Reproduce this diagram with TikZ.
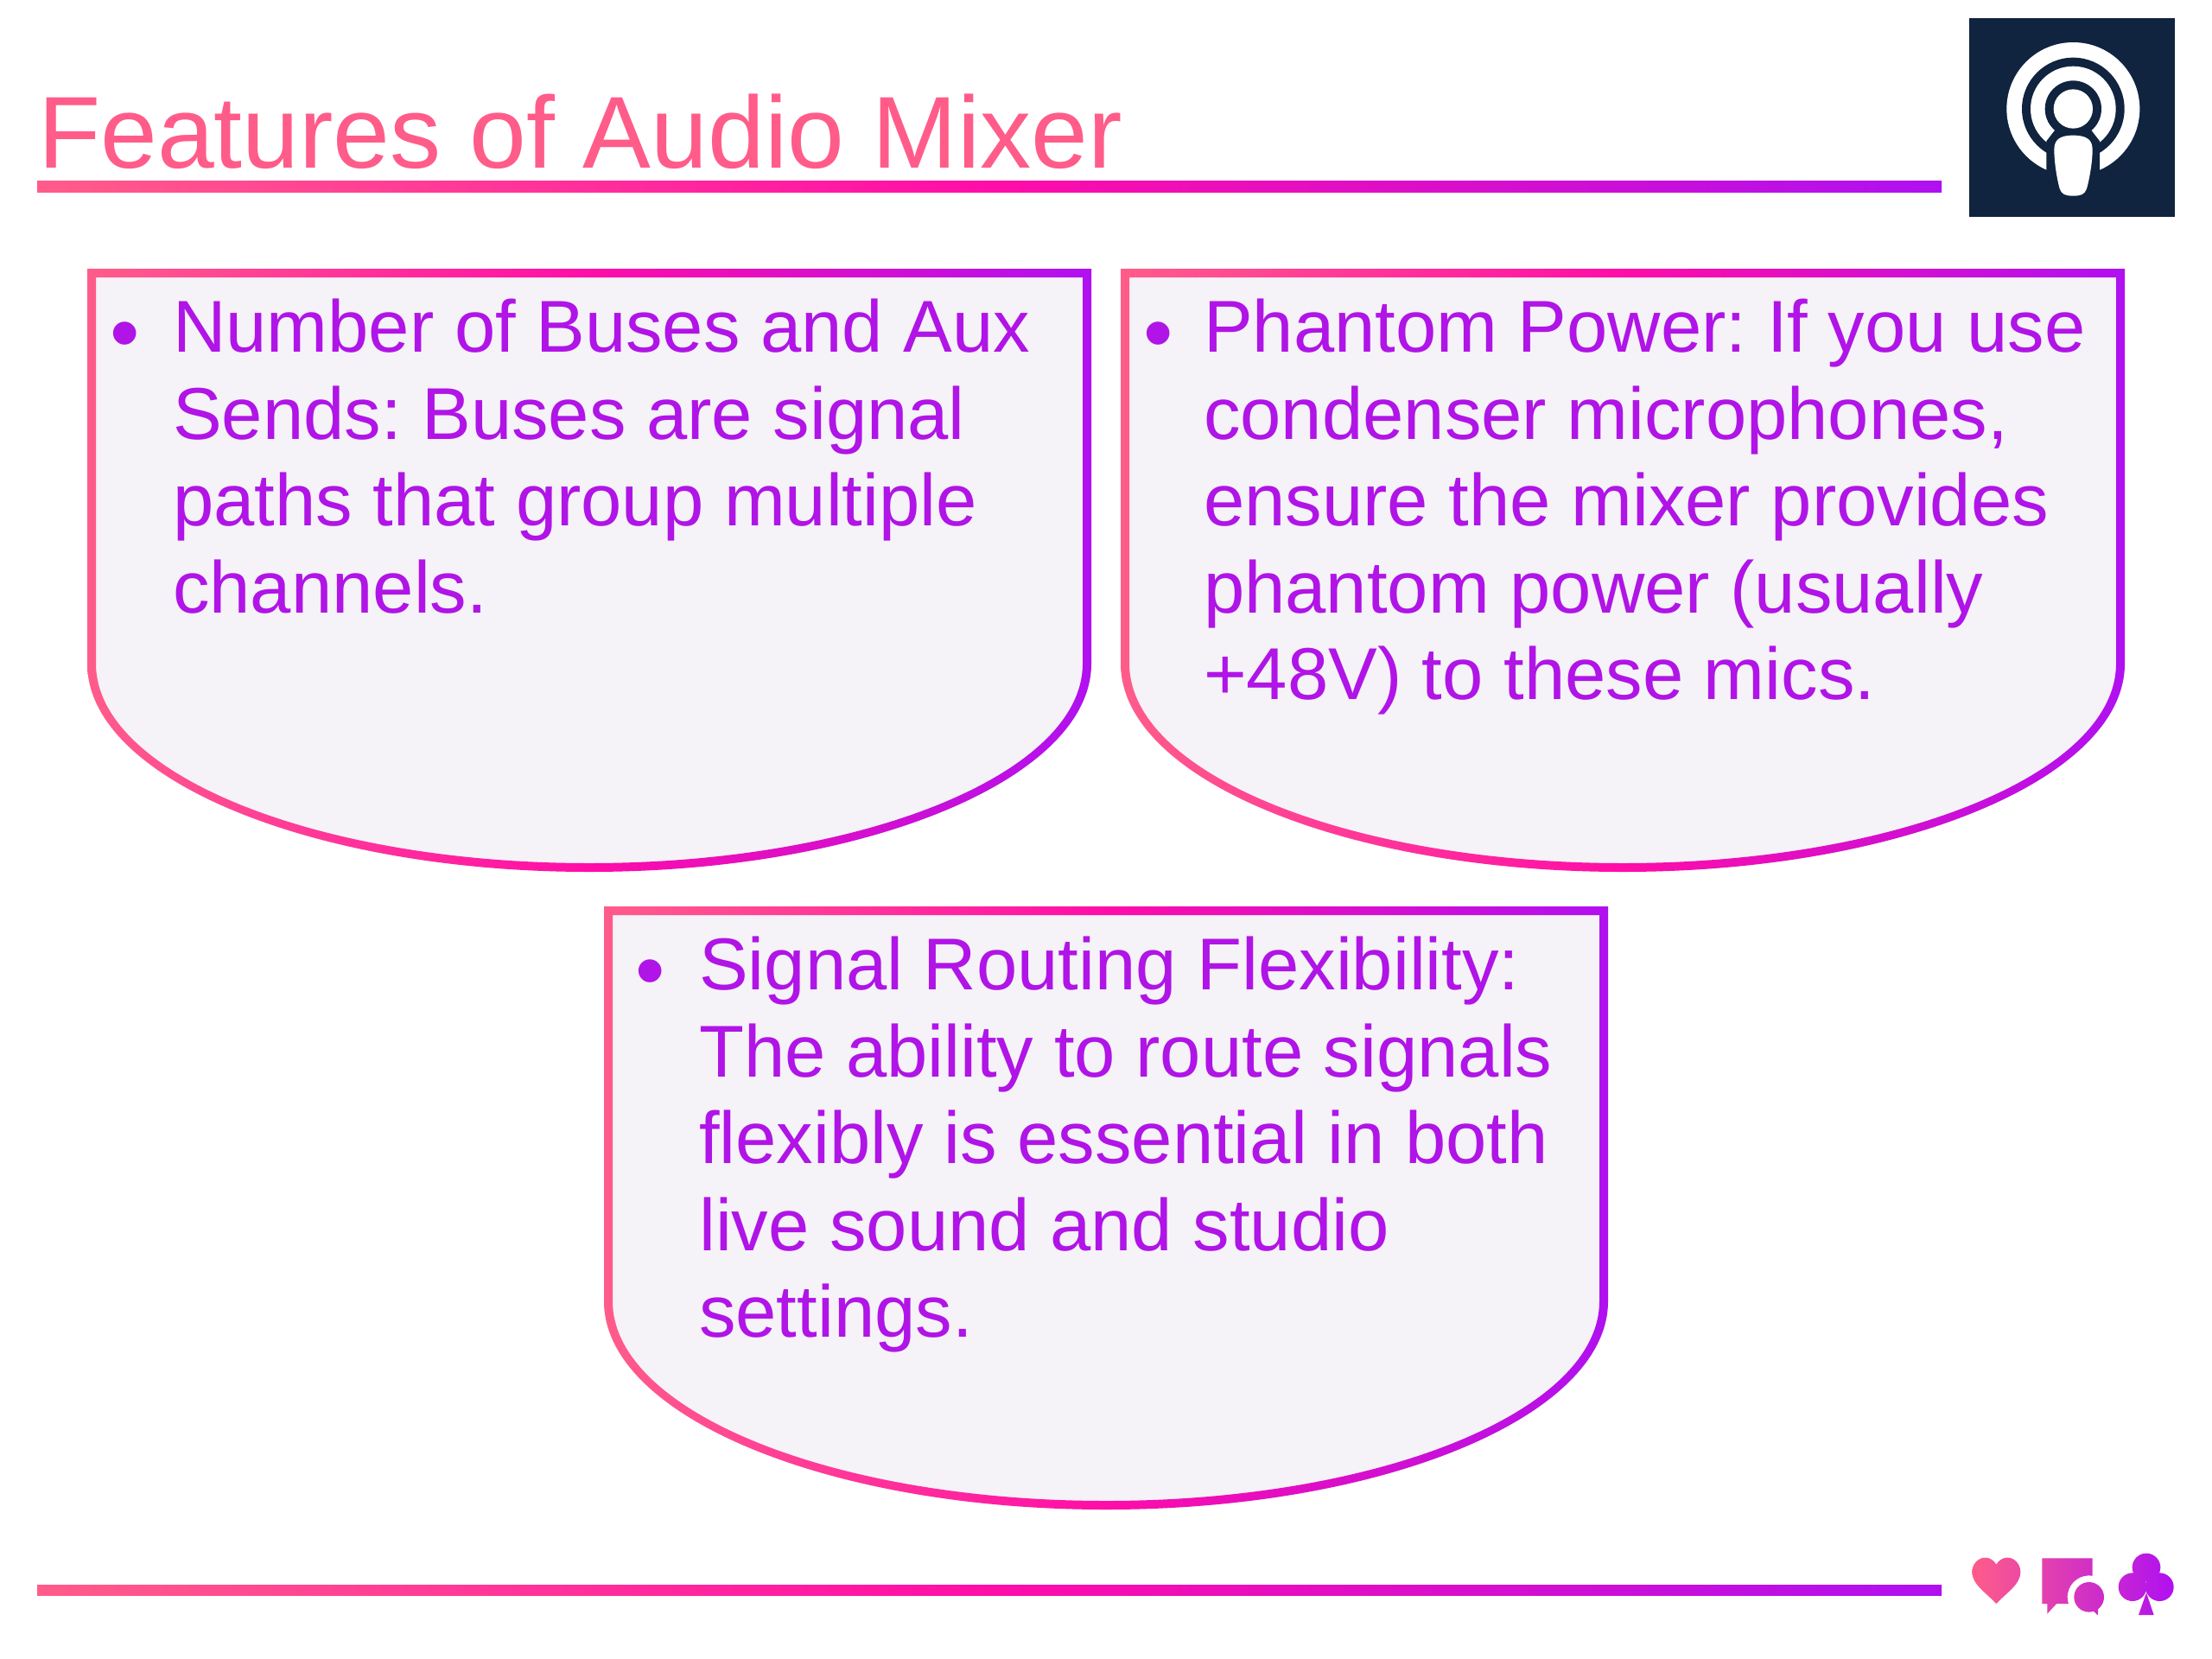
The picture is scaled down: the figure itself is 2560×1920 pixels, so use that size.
\documentclass[tikz,border=0pt]{standalone}
\usepackage{fontspec}
\setmainfont{Liberation Sans}
\frenchspacing
\definecolor{cA}{HTML}{FF5C8A}
\definecolor{cB}{HTML}{FF0DA8}
\definecolor{cC}{HTML}{B010F0}
\definecolor{panel}{HTML}{F5F2F8}
\definecolor{navy}{HTML}{10233F}
\definecolor{bodytext}{HTML}{B014E6}
\pgfdeclarehorizontalshading{brand}{100bp}{color(0bp)=(cA); color(25bp)=(cA); color(50bp)=(cB); color(75bp)=(cC); color(100bp)=(cC)}
\pgfdeclarehorizontalshading{iconbrand}{100bp}{color(0bp)=(cA); color(25bp)=(cA); color(75bp)=(cC); color(100bp)=(cC)}
\tikzset{
  bodytxt/.style={anchor=north west,inner sep=0pt,align=left,text=bodytext,font=\fontsize{85}{100.4}\selectfont},
  bullet/.style={anchor=base,inner sep=0pt,text=bodytext,font=\fontsize{98}{100}\selectfont},
  titletxt/.style={anchor=base west,inner sep=0pt,text=cA,font=\fontsize{118.2}{130}\selectfont},
}
\newcommand{\capbox}{%
  \fill[panel] (0,0) -- (1162,0) -- (1162,457) arc[start angle=0,end angle=180,x radius=581,y radius=241] -- cycle;
  \shade[shading=brand,even odd rule]
    (0,0) -- (1162,0) -- (1162,457) arc[start angle=0,end angle=180,x radius=581,y radius=241] -- cycle
    (10,10) -- (1152,10) -- (1152,457) arc[start angle=0,end angle=180,x radius=571,y radius=231] -- cycle;
}
\begin{document}
\begin{tikzpicture}[x=1pt,y=-1pt]
\useasboundingbox (0,0) rectangle (2560,1920);
\fill[white] (0,0) rectangle (2560,1920);
% title and rules
\node[titletxt] (title) at (44,194) {Features of Audio Mixer};
\shade[shading=brand] (43,209) rectangle (2247,222);
\shade[shading=brand] (43,1834) rectangle (2247,1846);
% logo
\fill[navy] (2279,21) rectangle (2517,251);
\begin{scope}[shift={(2240,0)},scale=1/3]
  \fill[white] (478,378) circle[radius=231];
  \fill[navy] (478,378) circle[radius=178];
  \fill[white] (478,378) circle[radius=148];
  \fill[navy] (478,378) circle[radius=98];
  \fill[navy] (420,445) -- (535,445) -- (570,490) -- (570,620) -- (385,620) -- (385,490) -- cycle;
  \fill[white] (478,378) circle[radius=68];
  \fill[white] (478,470) .. controls (525,470) and (545,485) .. (545,520) .. controls (545,560) and (535,620) .. (525,655) .. controls (518,675) and (505,680) .. (478,680) .. controls (451,680) and (438,675) .. (431,655) .. controls (421,620) and (412,560) .. (412,520) .. controls (412,485) and (431,470) .. (478,470) -- cycle;
\end{scope}
% footer icons
\begin{scope}[shift={(2240,1780)},scale=1/3]
  \shade[shading=iconbrand]
    (211,228) .. controls (170,185) and (127,160) .. (127,118) .. controls (127,88) and (150,68) .. (172,68) .. controls (190,68) and (203,78) .. (211,92) .. controls (219,78) and (232,68) .. (250,68) .. controls (272,68) and (295,88) .. (295,118) .. controls (295,160) and (252,185) .. (211,228) -- cycle
    (370,70) -- (545,70) -- (545,131) arc[start angle=-80.8,end angle=-198,radius=75] -- (420,228) -- (388,263) -- (388,228) -- (370,228) -- cycle
    (585,205) arc[start angle=0,end angle=360,radius=52] -- cycle
    (565,240) -- (563,268) -- (545,250) -- cycle
    (781,102) arc[start angle=0,end angle=360,radius=49] -- cycle
    (733,170) arc[start angle=0,end angle=360,radius=49] -- cycle
    (827,170) arc[start angle=0,end angle=360,radius=49] -- cycle
    (732,190) -- (758,267) -- (705,267) -- cycle;
\end{scope}
% panels
\begin{scope}[shift={(101,311)}]\capbox\end{scope}
\begin{scope}[shift={(1297,311)}]\capbox\end{scope}
\begin{scope}[shift={(699,1049)}]\capbox\end{scope}
% texts
\node[bullet] (b1) at (145,418) {•};
\node[bodytxt] (t1) at (200,346) {Number of Buses and Aux\\Sends: Buses are signal\\paths that group multiple\\channels.};
\node[bullet] (b2) at (1341,418) {•};
\node[bodytxt] (t2) at (1393,346) {Phantom Power: If you use\\condenser microphones,\\ensure the mixer provides\\phantom power (usually\\+48V) to these mics.};
\node[bullet] (b3) at (753,1156) {•};
\node[bodytxt] (t3) at (809,1084) {Signal Routing Flexibility:\\The ability to route signals\\flexibly is essential in both\\live sound and studio\\settings.};
\end{tikzpicture}
\end{document}
